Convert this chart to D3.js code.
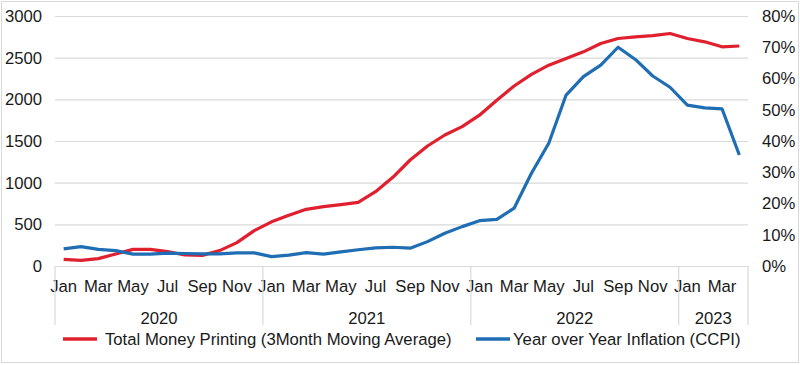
<!DOCTYPE html>
<html>
<head>
<meta charset="utf-8">
<script src="https://cdn.jsdelivr.net/npm/d3@7"></script>
<style>
    body { margin: 0; background: #fff; }
    text { font-family: "Liberation Sans", Arial, sans-serif; fill: #1a1a1a; }
</style>
</head>
<body>
<div id="chart"></div>
<script>
// months Jan 2020 .. Apr 2023
var monthNames = ["Jan", "Feb", "Mar", "Apr", "May", "Jun", "Jul", "Aug", "Sep", "Oct", "Nov", "Dec"];
var years = [
    {label: "2020", months: 12},
    {label: "2021", months: 12},
    {label: "2022", months: 12},
    {label: "2023", months: 4}
];

// Total money printing (3 month moving average)
var moneyPrinting = [80, 68, 88, 144, 200, 200, 172, 132, 128, 184, 280, 424,
    530, 610, 680, 712, 736, 764, 892, 1064, 1272, 1440, 1572, 1672,
    1810, 1990, 2160, 2300, 2410, 2490, 2570, 2670, 2730, 2750, 2764, 2790,
    2730, 2690, 2630, 2640];

// Year over year inflation (CCPI), percent
var inflation = [5.5, 6.2, 5.3, 4.9, 3.8, 3.8, 4.1, 4.0, 3.9, 3.9, 4.2, 4.2,
    3.0, 3.5, 4.3, 3.8, 4.5, 5.2, 5.8, 6.0, 5.7, 7.8, 10.5, 12.6,
    14.5, 14.9, 18.5, 29.7, 39.3, 54.7, 60.6, 64.3, 70.0, 66.1, 60.8, 57.2,
    51.5, 50.6, 50.3, 35.5];

var leftTicks = [0, 500, 1000, 1500, 2000, 2500, 3000];
var rightTicks = [0, 10, 20, 30, 40, 50, 60, 70, 80];

var seriesNames = ["Total Money Printing (3Month Moving Average)", "Year over Year Inflation (CCPI)"];
var colors = ["#e0202e", "#1f6db3"];

var width = 800, height = 365;
var margin = {top: 16, right: 52, bottom: 99, left: 55};
var plotW = width - margin.left - margin.right,
    plotH = height - margin.top - margin.bottom;
var fontSize = "16.7px";

var svg = d3.select("#chart")
    .append("svg")
    .attr("width", width)
    .attr("height", height);

// outer frame
svg.append("rect")
    .attr("x", 1.5).attr("y", 1.5)
    .attr("width", width - 3).attr("height", height - 4)
    .attr("fill", "none")
    .attr("stroke", "#d9d9d9");

var g = svg.append("g")
    .attr("transform", "translate(" + margin.left + "," + margin.top + ")");

var idx = d3.range(moneyPrinting.length);
var x = d3.scaleBand().domain(idx).range([0, plotW]).padding(0);
var yL = d3.scaleLinear().domain([0, 3000]).range([plotH, 0]);
var yR = d3.scaleLinear().domain([0, 80]).range([plotH, 0]);

// gridlines
g.append("g")
    .selectAll("line")
    .data(leftTicks)
    .enter()
    .append("line")
    .attr("x1", 0).attr("x2", plotW)
    .attr("y1", function (d) { return yL(d) + 0.5; })
    .attr("y2", function (d) { return yL(d) + 0.5; })
    .attr("stroke", "#d9d9d9")
    .attr("stroke-width", 1.2);

// left axis
var leftAxis = g.append("g")
    .call(d3.axisLeft(yL).tickValues(leftTicks).tickSize(0).tickPadding(13).tickFormat(d3.format("d")));
leftAxis.select(".domain").remove();
leftAxis.selectAll("text").style("font-size", fontSize).attr("fill", "#1a1a1a");

// right axis
var rightAxis = g.append("g")
    .attr("transform", "translate(" + plotW + ",0)")
    .call(d3.axisRight(yR).tickValues(rightTicks).tickSize(0).tickPadding(14)
        .tickFormat(function (d) { return d + "%"; }));
rightAxis.select(".domain").remove();
rightAxis.selectAll("text").style("font-size", fontSize).attr("fill", "#1a1a1a");

// x axis month labels (every other month)
var xAxis = g.append("g")
    .attr("transform", "translate(0," + plotH + ")")
    .call(d3.axisBottom(x).tickSize(0).tickPadding(14)
        .tickFormat(function (d) { return d % 2 === 0 ? monthNames[d % 12] : ""; }));
xAxis.select(".domain").attr("stroke", "#d9d9d9").attr("stroke-width", 1.2);
xAxis.selectAll("text").style("font-size", fontSize).attr("fill", "#1a1a1a");

// year groups
var start = 0;
var bounds = [0];
years.forEach(function (yr) {
    var x0 = x(start), x1 = x(start + yr.months - 1) + x.bandwidth();
    g.append("text")
        .attr("x", (x0 + x1) / 2)
        .attr("y", plotH + 58)
        .attr("text-anchor", "middle")
        .style("font-size", fontSize)
        .text(yr.label);
    start += yr.months;
    bounds.push(start);
});
g.append("g")
    .selectAll("line")
    .data(bounds)
    .enter()
    .append("line")
    .attr("x1", function (d) { return d < idx.length ? x(d) : plotW; })
    .attr("x2", function (d) { return d < idx.length ? x(d) : plotW; })
    .attr("y1", plotH)
    .attr("y2", plotH + 59)
    .attr("stroke", "#d9d9d9")
    .attr("stroke-width", 1.2);

// lines
var cx = function (d, i) { return x(i) + x.bandwidth() / 2; };
var moneyLine = d3.line().x(cx).y(function (d) { return yL(d); });
var inflLine = d3.line().x(cx).y(function (d) { return yR(d); });

g.append("path")
    .datum(moneyPrinting)
    .attr("fill", "none")
    .attr("stroke", colors[0])
    .attr("stroke-width", 3.2)
    .attr("stroke-linejoin", "round")
    .attr("d", moneyLine);

g.append("path")
    .datum(inflation)
    .attr("fill", "none")
    .attr("stroke", colors[1])
    .attr("stroke-width", 3.2)
    .attr("stroke-linejoin", "round")
    .attr("d", inflLine);

// legend
var legendX = [63, 476];
var legendTextX = [105, 513];
var legend = svg.append("g");
seriesNames.forEach(function (name, i) {
    legend.append("line")
        .attr("x1", legendX[i]).attr("x2", legendX[i] + 34)
        .attr("y1", 339).attr("y2", 339)
        .attr("stroke", colors[i])
        .attr("stroke-width", 3.5);
    legend.append("text")
        .attr("x", legendTextX[i])
        .attr("y", 345)
        .style("font-size", fontSize)
        .text(name);
});
</script>
</body>
</html>
